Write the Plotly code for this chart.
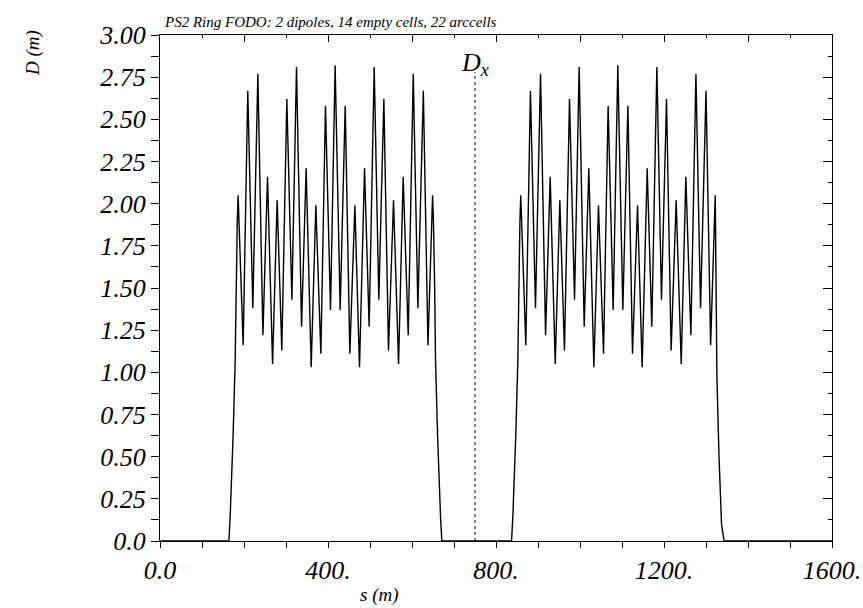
import plotly.graph_objects as go

# Dispersion along the ring
left_s = [0, 164, 167, 171, 174, 179, 181, 184,
          186, 198, 209, 221, 233, 245, 256, 268, 279, 290,
          302, 314, 325, 337, 348, 360, 371, 383, 394, 406,
          417, 429, 441, 452, 464, 475, 487, 498, 510, 521,
          533, 544, 556, 568, 579, 591, 603, 614, 627, 638,
          649, 651, 654, 656, 661, 664, 668, 671]
left_D = [0, 0, 0.14, 0.36, 0.62, 1.07, 1.50, 1.90,
          2.05, 1.16, 2.67, 1.38, 2.77, 1.22, 2.16, 1.05, 2.02, 1.13,
          2.62, 1.43, 2.81, 1.27, 2.21, 1.03, 1.99, 1.11, 2.58, 1.37,
          2.82, 1.37, 2.58, 1.11, 1.99, 1.03, 2.21, 1.27, 2.81, 1.43,
          2.62, 1.13, 2.02, 1.05, 2.16, 1.22, 2.77, 1.38, 2.67, 1.16,
          2.05, 1.90, 1.50, 1.07, 0.62, 0.36, 0.14, 0]

right_s = [837, 840, 844, 847, 852, 854, 857,
           859, 871, 882, 894, 906, 918, 929, 941, 952, 963,
           975, 987, 998, 1010, 1021, 1033, 1044, 1056, 1067, 1079,
           1090, 1102, 1114, 1125, 1137, 1148, 1160, 1171, 1183, 1194,
           1206, 1217, 1229, 1241, 1252, 1264, 1276, 1287, 1300, 1311,
           1322, 1325, 1326, 1331, 1337, 1343, 1600]
right_D = [0, 0.14, 0.36, 0.62, 1.07, 1.50, 1.90,
           2.05, 1.16, 2.67, 1.38, 2.77, 1.22, 2.16, 1.05, 2.02, 1.13,
           2.62, 1.43, 2.81, 1.27, 2.21, 1.03, 1.99, 1.11, 2.58, 1.37,
           2.82, 1.37, 2.58, 1.11, 1.99, 1.03, 2.21, 1.27, 2.81, 1.43,
           2.62, 1.13, 2.02, 1.05, 2.16, 1.22, 2.77, 1.38, 2.67, 1.16,
           2.05, 1.40, 0.97, 0.50, 0.10, 0, 0]

marker_s = [750, 750]
marker_D = [0, 2.78]

x_tickvals = [0, 400, 800, 1200, 1600]
x_ticktext = ["0.0", "400.", "800.", "1200.", "1600."]
y_tickvals = [0, 0.25, 0.5, 0.75, 1.0, 1.25, 1.5, 1.75, 2.0, 2.25, 2.5, 2.75, 3.0]
y_ticktext = ["0.0", "0.25", "0.50", "0.75", "1.00", "1.25", "1.50", "1.75",
              "2.00", "2.25", "2.50", "2.75", "3.00"]

title_text = "PS2 Ring FODO: 2 dipoles, 14 empty cells, 22 arccells"

FONT = "Liberation Serif"

fig = go.Figure()
fig.add_trace(go.Scatter(x=left_s + right_s, y=left_D + right_D, mode="lines",
                         line=dict(color="black", width=1.4), showlegend=False,
                         xaxis="x", yaxis="y"))
fig.add_trace(go.Scatter(x=marker_s, y=marker_D, mode="lines",
                         line=dict(color="black", width=1, dash="dot"), showlegend=False,
                         xaxis="x2", yaxis="y2"))

axis_common = dict(showgrid=False, zeroline=False, showline=True, linecolor="black",
                   linewidth=1, tickcolor="black", tickwidth=1, automargin=False)

fig.update_layout(
    width=863, height=608,
    margin=dict(l=160, r=31, t=35, b=67),
    plot_bgcolor="white", paper_bgcolor="white",
    font=dict(family=FONT, color="black"),
    xaxis=dict(range=[0, 1600], tickmode="array", tickvals=x_tickvals, ticktext=x_ticktext,
               ticks="outside", ticklen=6,
               minor=dict(tickmode="linear", tick0=0, dtick=100, ticks="outside", ticklen=6,
                          tickcolor="black"),
               tickfont=dict(family=FONT, size=26, style="italic"),
               **axis_common),
    yaxis=dict(range=[0, 3.0], tickmode="array", tickvals=y_tickvals, ticktext=y_ticktext,
               ticks="outside", ticklen=8,
               minor=dict(tickmode="linear", tick0=0, dtick=0.125, ticks="outside", ticklen=8,
                          tickcolor="black"),
               tickfont=dict(family=FONT, size=26, style="italic"),
               **axis_common),
    xaxis2=dict(range=[0, 1600], overlaying="x", side="top", anchor="y2",
                tickmode="linear", tick0=0, dtick=200, ticks="inside", ticklen=7,
                minor=dict(tickmode="linear", tick0=0, dtick=100, ticks="inside", ticklen=3,
                           tickcolor="black"),
                showticklabels=False, **axis_common),
    yaxis2=dict(range=[0, 3.0], overlaying="y", side="right", anchor="x2",
                tickmode="linear", tick0=0, dtick=0.25, ticks="inside", ticklen=9,
                minor=dict(tickmode="linear", tick0=0, dtick=0.125, ticks="inside", ticklen=4,
                           tickcolor="black"),
                showticklabels=False, **axis_common),
    annotations=[
        dict(text=title_text, xref="paper", yref="paper", x=0.003, y=1.0,
             xanchor="left", yanchor="bottom", showarrow=False, yshift=3,
             font=dict(family=FONT, size=15, style="italic")),
        dict(text="D<sub>x</sub>", xref="x", yref="y", x=750, y=2.83,
             xanchor="center", yanchor="middle", showarrow=False,
             font=dict(family=FONT, size=26, style="italic")),
        dict(text="D (m)", xref="paper", yref="paper", x=-0.19, y=0.965,
             xanchor="center", yanchor="middle", showarrow=False, textangle=-90,
             font=dict(family=FONT, size=19, style="italic")),
        dict(text="s (m)", xref="paper", yref="paper", x=0.326, y=-0.107,
             xanchor="center", yanchor="middle", showarrow=False,
             font=dict(family=FONT, size=19, style="italic")),
    ],
)

fig.write_html("out.html")
